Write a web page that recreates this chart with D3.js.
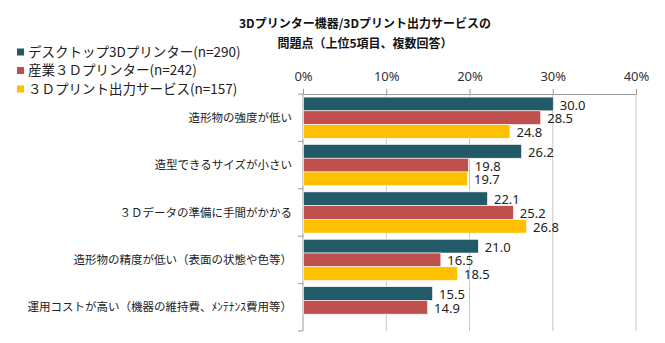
<!DOCTYPE html>
<html>
<head>
<meta charset="utf-8">
<script src="https://cdn.jsdelivr.net/npm/d3@7"></script>
<style>
  html, body { margin: 0; padding: 0; background: #fff; }
  svg { display: block; font-family: "Noto Sans CJK JP", "Noto Sans", sans-serif; }
</style>
</head>
<body>
<svg id="chart" width="665" height="343"></svg>
<script>
// Survey categories (top 5 issues)
const categories = [
  "造形物の強度が低い",
  "造型できるサイズが小さい",
  "３Ｄデータの準備に手間がかかる",
  "造形物の精度が低い（表面の状態や色等）",
  "運用コストが高い（機器の維持費、ﾒﾝﾃﾅﾝｽ費用等）"
];
const seriesNames = [
  "デスクトップ3Dプリンター(n=290)",
  "産業３Ｄプリンター(n=242)",
  "３Ｄプリント出力サービス(n=157)"
];
const desktop = [30.0, 26.2, 22.1, 21.0, 15.5];
const industrial = [28.5, 19.8, 25.2, 16.5, 14.9];
const service = [24.8, 19.7, 26.8, 18.5, null];
const colors = ["#235A68", "#C0504D", "#FFC000"];
const xTicks = [0, 10, 20, 30, 40];
const titleLines = ["3Dプリンター機器/3Dプリント出力サービスの", "問題点（上位5項目、複数回答）"];

const seriesValues = [desktop, industrial, service];
const svg = d3.select("#chart");

const plotLeft = 303, plotRight = 636, plotTop = 94, plotBottom = 331;

const x = d3.scaleLinear().domain([0, 40]).range([plotLeft, plotRight]);
const y = d3.scaleBand().domain(categories).range([plotTop, plotBottom]).paddingInner(0.13).paddingOuter(0.065);
const ySub = d3.scaleBand().domain(d3.range(seriesNames.length)).range([0, y.bandwidth()]);

// Vertical gridlines
svg.append("g").selectAll("line").data(xTicks.slice(1)).join("line")
  .attr("x1", d => x(d)).attr("x2", d => x(d))
  .attr("y1", plotTop).attr("y2", plotBottom)
  .attr("stroke", "#C8C8C8").attr("stroke-width", 1);

// Top axis
const xAxis = d3.axisTop(x).tickValues(xTicks).tickFormat(d => d + "%").tickSize(5).tickSizeOuter(0);
const gx = svg.append("g").attr("transform", `translate(0,${plotTop})`).call(xAxis);
gx.select(".domain").attr("stroke", "#9A9A9A");
gx.selectAll(".tick line").attr("stroke", "#9A9A9A");
gx.selectAll(".tick text").attr("font-size", 13).attr("fill", "#333").attr("dy", "-0.4em")
  .attr("font-family", "'Noto Sans', sans-serif");

// Left axis with ticks at band boundaries
const boundaries = d3.range(categories.length + 1).map(i => plotTop + i * (plotBottom - plotTop) / categories.length);
svg.append("line").attr("x1", plotLeft).attr("x2", plotLeft).attr("y1", plotTop).attr("y2", plotBottom)
  .attr("stroke", "#9A9A9A");
svg.append("g").selectAll("line").data(boundaries).join("line")
  .attr("x1", plotLeft - 5).attr("x2", plotLeft).attr("y1", d => d).attr("y2", d => d)
  .attr("stroke", "#9A9A9A");

// Category labels
svg.append("g").selectAll("text").data(categories).join("text")
  .attr("x", plotLeft - 11)
  .attr("y", d => y(d) + y.bandwidth() / 2)
  .attr("dy", "0.35em")
  .attr("text-anchor", "end")
  .attr("font-size", 11.5)
  .attr("fill", "#222")
  .text(d => d);

// Bars and value labels
seriesValues.forEach((vals, si) => {
  const data = categories.map((c, i) => ({ c, v: vals[i] })).filter(d => d.v != null);
  const g = svg.append("g");
  g.selectAll("rect").data(data).join("rect")
    .attr("x", x(0) + 0.5)
    .attr("y", d => y(d.c) + ySub(si))
    .attr("width", d => x(d.v) - x(0))
    .attr("height", ySub.bandwidth())
    .attr("fill", colors[si])
    .attr("stroke", "#fff").attr("stroke-width", 0.6);
  g.selectAll("text").data(data).join("text")
    .attr("x", d => x(d.v) + 7)
    .attr("y", d => y(d.c) + ySub(si) + ySub.bandwidth() / 2 + 1)
    .attr("dy", "0.35em")
    .attr("font-size", 13)
    .attr("fill", "#222")
    .attr("font-family", "'Noto Sans', sans-serif")
    .text(d => d.v.toFixed(1));
});

// Title
svg.append("g").selectAll("text").data(titleLines).join("text")
  .attr("x", 365)
  .attr("y", (d, i) => 24 + i * 20)
  .attr("dy", "0.35em")
  .attr("text-anchor", "middle")
  .attr("font-size", 12)
  .attr("font-weight", "bold")
  .attr("fill", "#111")
  .text(d => d);

// Legend
const legend = svg.append("g").selectAll("g").data(seriesNames).join("g")
  .attr("transform", (d, i) => `translate(17,${52 + i * 18.5})`);
legend.append("rect").attr("x", 0).attr("y", -3.5).attr("width", 7).attr("height", 7)
  .attr("fill", (d, i) => colors[i]);
legend.append("text").attr("x", 11).attr("y", 0).attr("dy", "0.35em")
  .attr("font-size", 13.5).attr("fill", "#222").text(d => d);
</script>
</body>
</html>
